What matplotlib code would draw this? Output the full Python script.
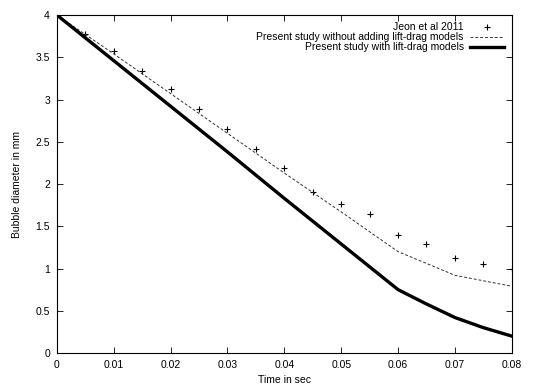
import matplotlib
matplotlib.use("Agg")
import numpy as np
import matplotlib.pyplot as plt

plt.rcParams['font.family'] = ['Liberation Sans', 'DejaVu Sans']

# experimental data (Jeon et al 2011)
t_exp = [0.005, 0.01, 0.015, 0.02, 0.025, 0.03, 0.035, 0.04, 0.045, 0.05,
         0.055, 0.06, 0.065, 0.07, 0.075, 0.08]
d_exp = [3.77, 3.58, 3.34, 3.13, 2.89, 2.65, 2.42, 2.19, 1.91, 1.76,
         1.64, 1.40, 1.29, 1.13, 1.05, 0.99]

# simulation without lift-drag models
t_nold = [0.0, 0.01, 0.02, 0.03, 0.04, 0.05, 0.06, 0.07, 0.08]
d_nold = [4.0, 3.54, 3.07, 2.60, 2.13, 1.67, 1.20, 0.92, 0.79]

# simulation with lift-drag models
t_ld = [0.0, 0.01, 0.02, 0.03, 0.04, 0.05, 0.06, 0.065, 0.07, 0.075, 0.08]
d_ld = [4.0, 3.46, 2.92, 2.38, 1.83, 1.29, 0.75, 0.58, 0.42, 0.30, 0.20]

fig = plt.figure(figsize=(5.37, 3.86), dpi=100)
ax = fig.add_axes([0.106, 0.0855, 0.847, 0.8755])

ax.plot(t_exp, d_exp, '+', color='black', markersize=5, mew=0.8, label='Jeon et al 2011')
ax.plot(t_nold, d_nold, '--', color='#333333', lw=0.7, dashes=(3, 2),
        label='Present study without adding lift-drag models')
ax.plot(t_ld, d_ld, '-', color='black', lw=2.4, label='Present study with lift-drag models')

ax.set_xlim(0, 0.08)
ax.set_ylim(0, 4)
ax.set_xticks(np.arange(0, 0.081, 0.01))
ax.set_xticklabels(['0', '0.01', '0.02', '0.03', '0.04', '0.05', '0.06', '0.07', '0.08'])
ax.set_yticks(np.arange(0, 4.01, 0.5))
ax.set_yticklabels(['0', '0.5', '1', '1.5', '2', '2.5', '3', '3.5', '4'])
ax.tick_params(direction='in', top=True, right=True, labelsize=7.5, length=4, width=0.6, pad=5)
for s in ax.spines.values():
    s.set_linewidth(0.8)

ax.set_xlabel('Time in sec', fontsize=7.5, labelpad=4)
ax.set_ylabel('Bubble diameter in mm', fontsize=7.5, labelpad=10)

ax.legend(loc='upper right', frameon=False, markerfirst=False, fontsize=7.5,
          handlelength=3.3, labelspacing=0.0, borderaxespad=0.3, handletextpad=0.6)

fig.savefig('out.png', dpi=100)
